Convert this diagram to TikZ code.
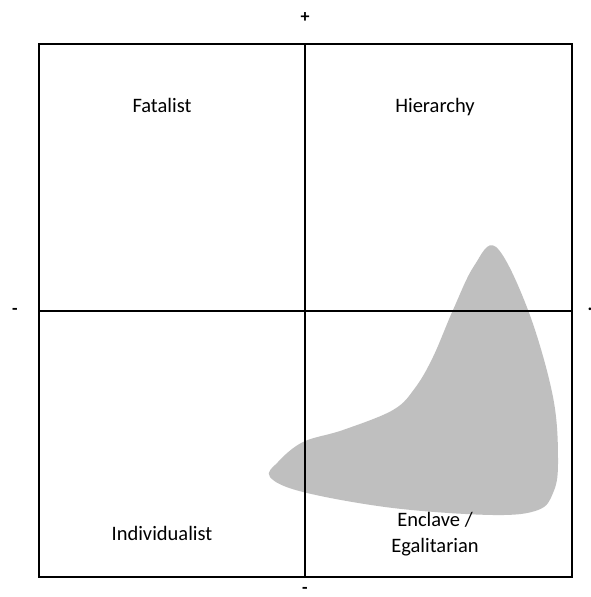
\documentclass[tikz,border=0pt]{standalone}
\usepackage{fontspec}
\setmainfont{Carlito}
\begin{document}
\begin{tikzpicture}[x=1pt,y=-1pt,
  axis/.style={line width=1.6pt,black},
  lbl/.style={font=\fontsize{20.5}{26}\selectfont,align=center,inner sep=0pt},
  sign/.style={font=\bfseries\fontsize{18}{20}\selectfont,inner sep=0pt}]
\useasboundingbox (0,0) rectangle (591,597);
\fill[fill=white] (0,0) rectangle (591,597);
\fill[fill=black!25] plot[smooth cycle,tension=0.6] coordinates{
 (496,247) (528,310) (553,397) (558,463) (553,493) (538,510)
 (493,515) (393,508) (303,492) (270,477) (278,462) (303,442)
 (343,430) (393,410) (415,388) (433,357) (453,310) (474,266)};
\coordinate (tl) at (39,44);
\coordinate (br) at (572,577);
\coordinate (tc) at (305,44);
\coordinate (bc) at (305,577);
\coordinate (lc) at (39,311);
\coordinate (rc) at (572,311);
\draw[axis] (tl) rectangle (br);
\draw[axis] (tc) -- (bc);
\draw[axis] (lc) -- (rc);
\node[sign] (plus) at (305,18) {+};
\node[sign] (minusl) at (15,311) {-};
\node[sign] (dotr) at (590,309) {.};
\node[sign] (minusb) at (305,590) {-};
\node[lbl] (fat) at (162,105) {Fatalist};
\node[lbl] (hier) at (435,107) {Hierarchy};
\node[lbl] (ind) at (162,533) {Individualist};
\node[lbl] (enc) at (435,534) {Enclave /\\Egalitarian};
\end{tikzpicture}
\end{document}
